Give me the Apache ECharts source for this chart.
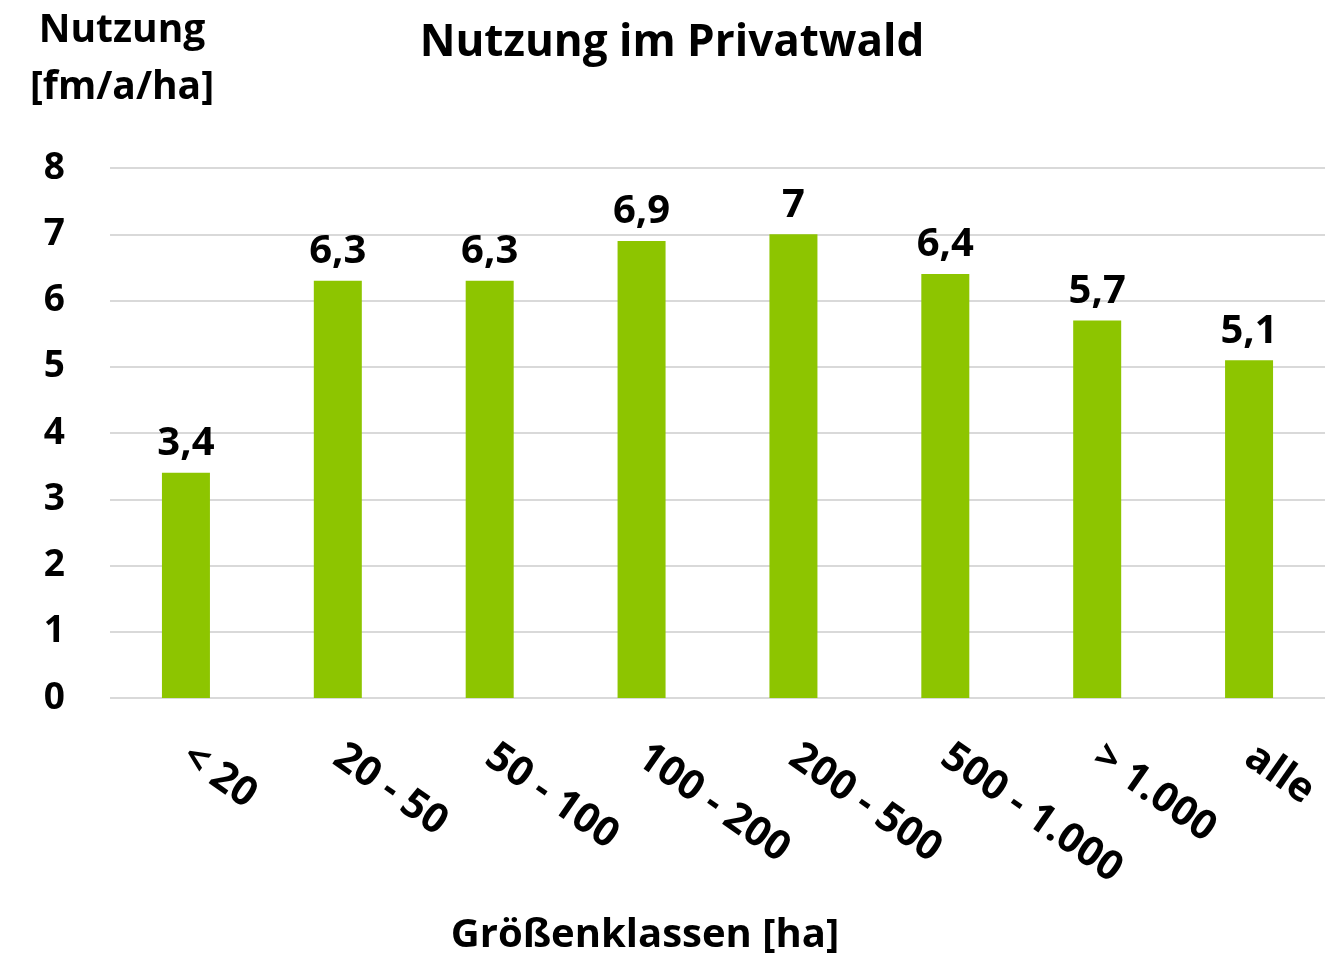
<!DOCTYPE html>
<html>
<head>
<meta charset="utf-8">
<script src="https://cdn.jsdelivr.net/npm/echarts@6/dist/echarts.min.js"></script>
<style>
  html, body { margin: 0; padding: 0; background: #fff; }
  #chart { width: 1332px; height: 957px; }
</style>
</head>
<body>
<div id="chart"></div>
<script>
// Größenklassen und Nutzung
const categories = ["< 20", "20 - 50", "50 - 100", "100 - 200", "200 - 500", "500 - 1.000", "> 1.000", "alle"];
const values = [3.4, 6.3, 6.3, 6.9, 7, 6.4, 5.7, 5.1];
const yTicks = [0, 1, 2, 3, 4, 5, 6, 7, 8];

const font = "'Open Sans', sans-serif";

const chart = echarts.init(document.getElementById("chart"));

const option = {
  backgroundColor: "#ffffff",
  animation: false,
  title: [
    {
      text: "Nutzung im Privatwald",
      left: 667,
      top: 16,
      textAlign: "center",
      textStyle: { fontFamily: font, fontSize: 44, fontWeight: "bold", color: "#000" },
    },
    {
      text: "Nutzung\n[fm/a/ha]",
      left: 117,
      top: -3,
      textAlign: "center",
      textStyle: { fontFamily: font, fontSize: 39, fontWeight: "bold", color: "#000", lineHeight: 57, align: "center" },
    },
    {
      // Achsentitel unten (nicht mittig zur Zeichenfläche)
      text: "Größenklassen [ha]",
      left: 640,
      top: 911,
      textAlign: "center",
      textStyle: { fontFamily: font, fontSize: 40, fontWeight: "bold", color: "#000" },
    },
  ],
  grid: {
    left: 110,
    right: 7,
    top: 168,
    bottom: 259,
    outerBoundsMode: "none",
  },
  xAxis: {
    type: "category",
    data: categories,
    axisLine: { show: false },
    axisTick: { show: false },
    axisLabel: {
      rotate: -35,
      margin: 55,
      fontFamily: font,
      fontSize: 41,
      fontWeight: "bold",
      color: "#000",
      interval: 0,
    },
  },
  yAxis: {
    type: "value",
    min: yTicks[0],
    max: yTicks[yTicks.length - 1],
    interval: 1,
    axisLine: { show: false },
    axisTick: { show: false },
    axisLabel: {
      margin: 45,
      fontFamily: font,
      fontSize: 37,
      fontWeight: "bold",
      color: "#000",
    },
    splitLine: {
      show: true,
      lineStyle: { color: "#d9d9d9", width: 2 },
    },
  },
  series: [
    {
      type: "bar",
      data: values,
      barWidth: 48,
      itemStyle: { color: "#8dc500" },
      label: {
        show: true,
        position: "top",
        distance: 9,
        fontFamily: font,
        fontSize: 40,
        fontWeight: "bold",
        color: "#000",
        // Komma als Dezimaltrennzeichen
        formatter: function (p) {
          return String(p.value).replace(".", ",");
        },
      },
    },
  ],
};

chart.setOption(option);
</script>
</body>
</html>
